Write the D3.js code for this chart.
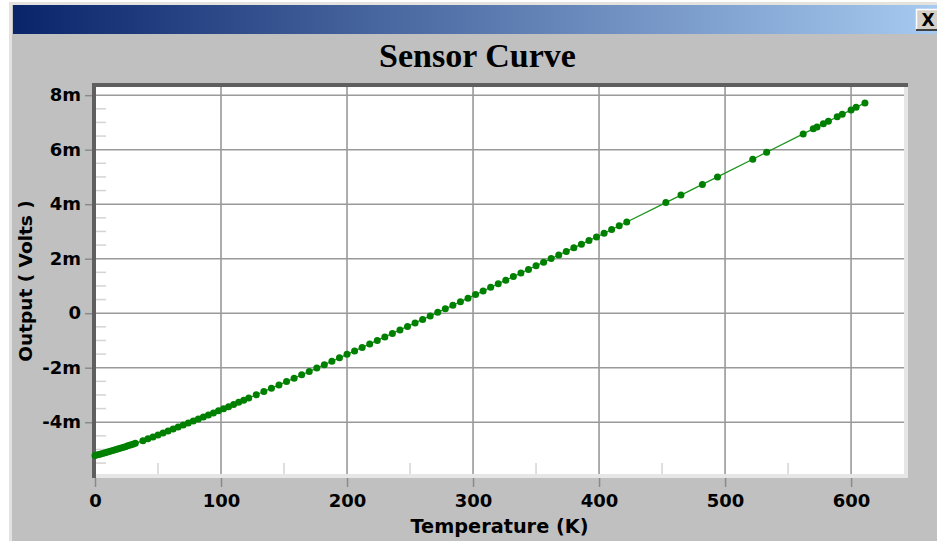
<!DOCTYPE html>
<html>
<head>
<meta charset="utf-8">
<script src="https://cdn.jsdelivr.net/npm/d3@7"></script>
<style>
  body { margin: 0; background: #fff; }
  svg { display: block; }
  .rotulo { font-family: "DejaVu Sans", Verdana, sans-serif; font-weight: bold; fill: #000; }
</style>
</head>
<body>
<div id="grafico"></div>
<script>
// Dados (temperatura em K, saída em mV)
const temperatures = [0, 2, 4, 6, 8, 10, 12, 14, 16, 18, 20, 22, 24, 26, 28, 30, 32,
  38, 42, 46, 50, 54, 58, 62, 66, 70, 74, 78, 82, 86, 90, 94, 98, 102, 106, 110, 114, 118, 122,
  128, 134, 140, 146, 152, 158, 164, 170, 176, 182, 188, 194, 200, 206, 212, 218, 224, 230, 236, 242,
  248, 254, 260, 266, 272, 278, 284, 290, 296, 302, 308, 314, 320, 326, 332, 338, 344, 350, 356, 362,
  368, 374, 380, 386, 392, 398, 404, 410, 416, 422,
  453, 465, 482, 494, 522, 533, 562, 570, 573, 578, 582, 589, 593, 600, 604, 611];

const outputs = [-5.220, -5.196, -5.171, -5.146, -5.120, -5.094, -5.067, -5.040, -5.013, -4.985, -4.956, -4.927, -4.897, -4.867, -4.837, -4.806, -4.775,
  -4.677, -4.610, -4.541, -4.470, -4.398, -4.325, -4.253, -4.179, -4.106, -4.032, -3.958, -3.884, -3.809, -3.734, -3.659, -3.583, -3.506, -3.428, -3.349, -3.270, -3.191, -3.112,
  -2.992, -2.872, -2.751, -2.630, -2.508, -2.385, -2.262, -2.138, -2.014, -1.889, -1.763, -1.637, -1.510, -1.383, -1.255, -1.128, -0.999, -0.871, -0.743, -0.614,
  -0.485, -0.357, -0.227, -0.098, 0.032, 0.162, 0.292, 0.422, 0.553, 0.684, 0.816, 0.948, 1.080, 1.212, 1.344, 1.476, 1.608, 1.740, 1.872, 2.004,
  2.136, 2.268, 2.400, 2.532, 2.664, 2.796, 2.932, 3.070, 3.208, 3.346,
  4.059, 4.335, 4.726, 5.002, 5.650, 5.906, 6.578, 6.764, 6.834, 6.950, 7.042, 7.205, 7.298, 7.460, 7.553, 7.715];

const xTickValues = [0, 100, 200, 300, 400, 500, 600];
const xMinorValues = [50, 150, 250, 350, 450, 550];
const yTickValues = [-4, -2, 0, 2, 4, 6, 8];
const yTickLabels = ["-4m", "-2m", "0", "2m", "4m", "6m", "8m"];

const tituloGrafico = "Sensor Curve";
const tituloX = "Temperature (K)";
const tituloY = "Output ( Volts )";

const width = 937, height = 541;
const area = { left: 96, right: 904, top: 87, bottom: 474 };

const svg = d3.select("#grafico").append("svg")
  .attr("width", width)
  .attr("height", height);

// Moldura da janela
svg.append("rect").attr("x", 9).attr("y", 2).attr("width", width - 9).attr("height", height - 2).attr("fill", "#e4e2de");
svg.append("rect").attr("x", 12).attr("y", 5).attr("width", width - 12).attr("height", height - 5).attr("fill", "#c0c0c0");

const grad = svg.append("defs").append("linearGradient")
  .attr("id", "barra").attr("x1", 0).attr("x2", 1).attr("y1", 0).attr("y2", 0);
grad.append("stop").attr("offset", "0%").attr("stop-color", "#0a246a");
grad.append("stop").attr("offset", "100%").attr("stop-color", "#a6caf0");

svg.append("rect").attr("x", 13).attr("y", 5).attr("width", width - 13).attr("height", 29).attr("fill", "url(#barra)");

// Botão fechar
const botao = svg.append("g").attr("transform", "translate(916,9)");
botao.append("rect").attr("width", 22).attr("height", 21).attr("fill", "#d4d0c8");
botao.append("path").attr("d", "M0.5,21 V0.5 H22").attr("fill", "none").attr("stroke", "#fff").attr("stroke-width", 1.5);
botao.append("path").attr("d", "M0,21 H22").attr("stroke", "#404040").attr("stroke-width", 2);
botao.append("text").attr("x", 12).attr("y", 17).attr("text-anchor", "middle")
  .attr("font-family", "DejaVu Sans, sans-serif").attr("font-weight", "bold").attr("font-size", 17).text("X");

// Título
svg.append("text")
  .attr("x", 477.5).attr("y", 67)
  .attr("text-anchor", "middle")
  .attr("font-family", "Liberation Serif, Times New Roman, serif")
  .attr("font-weight", "bold")
  .attr("font-size", 34)
  .text(tituloGrafico);

// Escalas
const x = d3.scaleLinear().domain([0, 642]).range([95, 904]);
const y = d3.scaleLinear().domain([-5.9, 8.3]).range([area.bottom, area.top]);

// Fundo da área do gráfico com borda em relevo
svg.append("rect").attr("x", 92).attr("y", 83).attr("width", 816).attr("height", 395).attr("fill", "#e6e6e6");
svg.append("rect").attr("x", 92).attr("y", 83).attr("width", 816).attr("height", 4).attr("fill", "#5f5f5f");
svg.append("rect").attr("x", 92).attr("y", 83).attr("width", 4).attr("height", 395).attr("fill", "#5f5f5f");
svg.append("rect").attr("x", area.left).attr("y", area.top)
  .attr("width", area.right - area.left).attr("height", area.bottom - area.top).attr("fill", "#fff");

// Marcas menores
svg.append("g").selectAll("line")
  .data(d3.range(-5.5, 8.01, 0.5).filter(v => v % 2 !== 0))
  .enter().append("line")
  .attr("x1", area.left).attr("x2", area.left + 10)
  .attr("y1", d => y(d)).attr("y2", d => y(d))
  .attr("stroke", "#d4d4d4").attr("stroke-width", 1.5);

svg.append("g").selectAll("line")
  .data(xMinorValues)
  .enter().append("line")
  .attr("x1", d => x(d)).attr("x2", d => x(d))
  .attr("y1", area.bottom).attr("y2", area.bottom - 11)
  .attr("stroke", "#d4d4d4").attr("stroke-width", 1.5);

// Grade
svg.append("g").selectAll("line")
  .data(xTickValues.filter(d => d > 0))
  .enter().append("line")
  .attr("x1", d => x(d)).attr("x2", d => x(d))
  .attr("y1", area.top).attr("y2", area.bottom)
  .attr("stroke", "#999").attr("stroke-width", 1.6);

svg.append("g").selectAll("line")
  .data(yTickValues)
  .enter().append("line")
  .attr("x1", area.left).attr("x2", area.right)
  .attr("y1", d => y(d)).attr("y2", d => y(d))
  .attr("stroke", "#999").attr("stroke-width", 1.6);

// Eixos
const eixoY = svg.append("g")
  .attr("transform", "translate(92,0)")
  .call(d3.axisLeft(y).tickValues(yTickValues).tickFormat((d, i) => yTickLabels[i]).tickSize(7).tickPadding(4));

const eixoX = svg.append("g")
  .attr("transform", `translate(0,${area.bottom + 4})`)
  .call(d3.axisBottom(x).tickValues(xTickValues).tickFormat(d3.format("d")).tickSize(9).tickPadding(7));

[eixoY, eixoX].forEach(eixo => {
  eixo.select(".domain").remove();
  eixo.selectAll(".tick line").attr("stroke", "#8a8a8a").attr("stroke-width", 1.5);
  eixo.selectAll(".tick text").attr("class", "rotulo").attr("font-size", 18);
});

// Curva
const pontos = temperatures.map((t, i) => ({ t: t, v: outputs[i] }));

svg.append("path")
  .datum(pontos)
  .attr("fill", "none")
  .attr("stroke", "#1a941a")
  .attr("stroke-width", 1.3)
  .attr("d", d3.line().x(d => x(d.t)).y(d => y(d.v)));

svg.append("g").selectAll("circle")
  .data(pontos)
  .enter().append("circle")
  .attr("cx", d => x(d.t))
  .attr("cy", d => y(d.v))
  .attr("r", 3.5)
  .attr("fill", "#008000");

// Títulos dos eixos
svg.append("text")
  .attr("class", "rotulo")
  .attr("x", 499.5).attr("y", 533)
  .attr("text-anchor", "middle")
  .attr("font-size", 19.3)
  .text(tituloX);

svg.append("text")
  .attr("class", "rotulo")
  .attr("transform", "translate(32,281) rotate(-90)")
  .attr("text-anchor", "middle")
  .attr("font-size", 18.5)
  .text(tituloY);
</script>
</body>
</html>
